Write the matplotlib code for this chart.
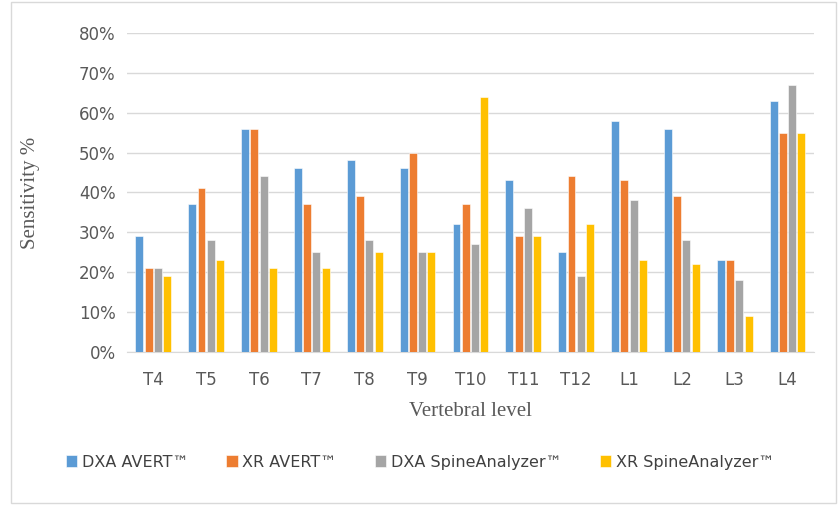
import matplotlib.pyplot as plt
import numpy as np
from matplotlib.patches import Rectangle

levels = ["T4", "T5", "T6", "T7", "T8", "T9", "T10", "T11", "T12", "L1", "L2", "L3", "L4"]
dxa_avert = [29, 37, 56, 46, 48, 46, 32, 43, 25, 58, 56, 23, 63]
xr_avert = [21, 41, 56, 37, 39, 50, 37, 29, 44, 43, 39, 23, 55]
dxa_spine = [21, 28, 44, 25, 28, 25, 27, 36, 19, 38, 28, 18, 67]
xr_spine = [19, 23, 21, 21, 25, 25, 64, 29, 32, 23, 22, 9, 55]

series = [
    ("DXA AVERT™", dxa_avert, "#5B9BD5"),
    ("XR AVERT™", xr_avert, "#ED7D31"),
    ("DXA SpineAnalyzer™", dxa_spine, "#A5A5A5"),
    ("XR SpineAnalyzer™", xr_spine, "#FFC000"),
]

fig = plt.figure(figsize=(8.4, 5.05), dpi=100)
ax = fig.add_axes([0.151, 0.303, 0.818, 0.632])

x = np.arange(len(levels))
w = 0.15
pitch = 0.175
for i, (name, vals, col) in enumerate(series):
    ax.bar(x + (i - 1.5) * pitch, vals, w, color=col, label=name,
           edgecolor="white", linewidth=0.4, zorder=3)

ax.set_xlim(-0.5, len(levels) - 0.5)
ax.set_ylim(0, 80)
ax.set_yticks(range(0, 81, 10))
ax.set_yticklabels([f"{v}%" for v in range(0, 81, 10)])
ax.set_xticks(x)
ax.set_xticklabels(levels)
ax.grid(axis="y", color="#D9D9D9", linewidth=1, zorder=0)
for s in ["top", "right", "left"]:
    ax.spines[s].set_visible(False)
ax.spines["bottom"].set_color("#D9D9D9")
ax.tick_params(length=0, labelsize=12, colors="#595959", pad=8)
ax.tick_params(axis="x", pad=14)

ax.set_ylabel("Sensitivity %", family="Liberation Serif", fontsize=15, color="#595959", labelpad=28)
ax.set_xlabel("Vertebral level", family="Liberation Serif", fontsize=15, color="#595959", labelpad=9)

fig.legend(loc="center", bbox_to_anchor=(0.5, 0.085), ncol=4, frameon=False,
           fontsize=11.5, handlelength=0.7, handleheight=0.7, handletextpad=0.3,
           columnspacing=2.4, labelcolor="#404040")

fig.patches.append(Rectangle((0.013, 0.004), 0.982, 0.992, transform=fig.transFigure,
                             fill=False, edgecolor="#D9D9D9", linewidth=1))

fig.savefig("out.png", dpi=100)
